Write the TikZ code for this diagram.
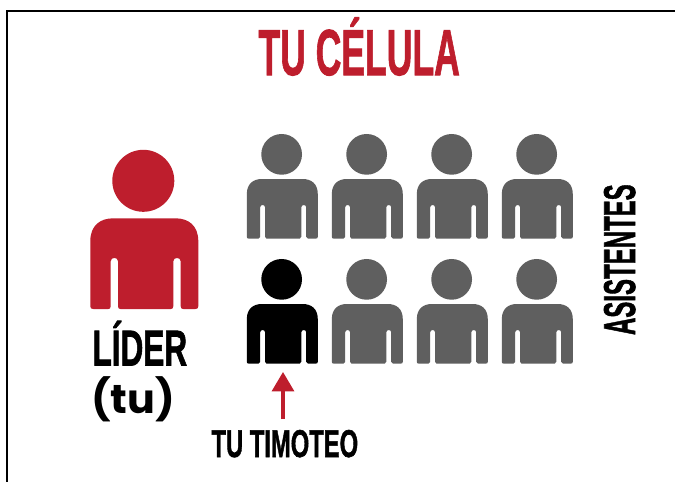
\documentclass[tikz,border=0pt]{standalone}
\usepackage{fontspec}
\usepackage{graphicx}
\setmainfont{Liberation Sans}[BoldFeatures={FakeBold=1.6}]
\newfontfamily\redonda{Poppins}
\usetikzlibrary{arrows.meta}
\definecolor{rojo}{HTML}{BE1E2D}
\definecolor{gris}{HTML}{5F5F5F}
\newcommand{\capsfit}[3]{\resizebox{#1pt}{#2pt}{\bfseries\smash{#3}\vphantom{T}}}
\newcommand{\allfit}[3]{\resizebox*{#1pt}{#2pt}{\redonda\bfseries #3}}
\tikzset{
  x=0.75pt,y=-0.75pt,
  etiqueta/.style={inner sep=0pt,outer sep=0pt,anchor=south west},
  marco/.style={draw=black,line width=1pt},
  flecha/.style={draw=rojo,line width=2.3pt,-{Triangle[length=14.5pt,width=16.5pt]}},
  pics/persona/.style={code={
    \fill (-1,-37.5) circle[radius=31];
    \fill (-54,23) .. controls (-54,7) and (-44,0) .. (-31,0) -- (31,0)
      .. controls (44,0) and (54,7) .. (54,23) -- (54,88)
      .. controls (54,90) and (53,90.7) .. (51,90.7) -- (39,90.7)
      .. controls (37.4,90.7) and (36.4,90) .. (36.4,88) -- (36.4,43)
      .. controls (36.4,38.5) and (29,38.5) .. (29,43) -- (29,88)
      .. controls (29,90) and (28,90.7) .. (26.5,90.7) -- (-24,90.7)
      .. controls (-25.3,90.7) and (-26.3,90) .. (-26.3,88) -- (-26.3,43)
      .. controls (-26.3,38.5) and (-33.6,38.5) .. (-33.6,43) -- (-33.6,88)
      .. controls (-33.6,90) and (-34.6,90.7) .. (-36,90.7) -- (-51,90.7)
      .. controls (-53,90.7) and (-54,90) .. (-54,88) -- cycle;
  }}
}
\begin{document}
\begin{tikzpicture}
\useasboundingbox[fill=white] (0,0) rectangle (675,482);
\draw[marco] (7,482) -- (7,11) -- (675,11);
% title
\node[etiqueta,text=rojo] (titulo) at (258.5,75) {\capsfit{151}{33.5}{TU CÉLULA}};
% people
\pic[fill=rojo] at (144.3,218.3) {persona};
\foreach \px in {282.3,367.3,452.3,537.3}{
  \pic[fill=gris,scale=0.657] at (\px,179) {persona};
}
\pic[fill=black,scale=0.657] at (282.3,304) {persona};
\foreach \px in {367.3,452.3,537.3}{
  \pic[fill=gris,scale=0.657] at (\px,304) {persona};
}
% labels
\node[etiqueta] (lider) at (92.5,365.5) {\capsfit{71}{26}{LÍDER}};
\node[etiqueta] (tu) at (91,422) {\allfit{63}{34}{(tu)}};
\node[etiqueta] (timoteo) at (211.5,457) {\capsfit{110}{20}{TU TIMOTEO}};
\node[etiqueta,rotate=90,anchor=south west] (asistentes) at (635,335) {\capsfit{113}{23}{ASISTENTES}};
% arrow
\coordinate (flechaini) at (283,419);
\coordinate (flechafin) at (283,372);
\draw[flecha] (flechaini) -- (flechafin);
\end{tikzpicture}
\end{document}
